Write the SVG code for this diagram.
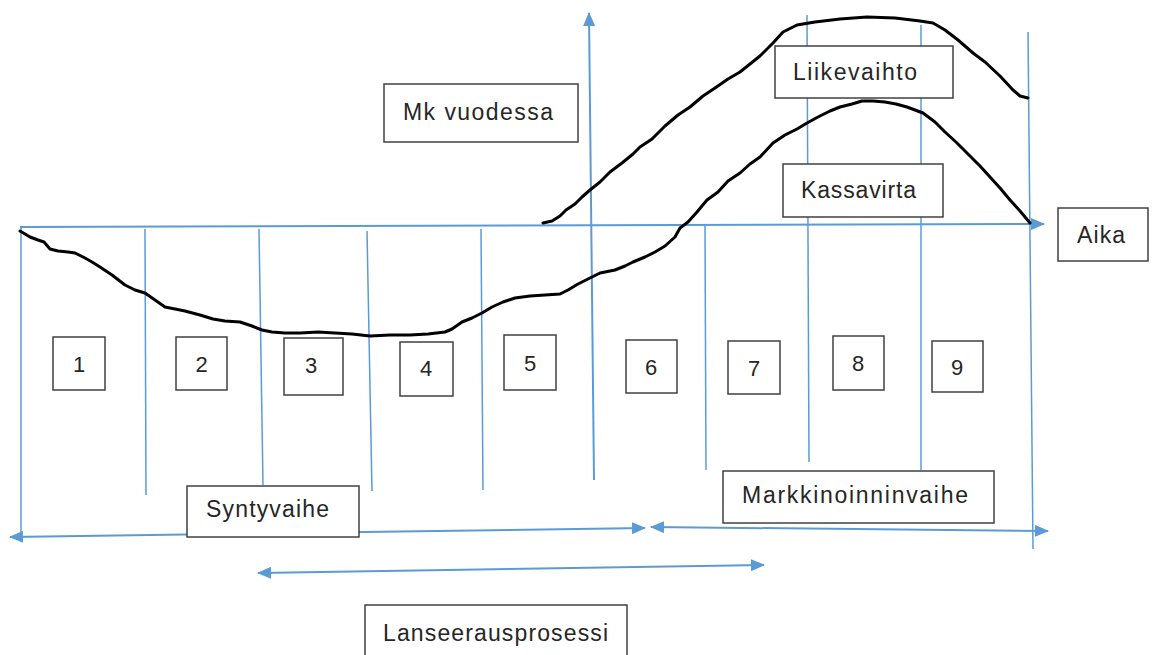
<svg xmlns="http://www.w3.org/2000/svg" width="1153" height="655" viewBox="0 0 1153 655">
<style>
.ax{stroke:#5B9BD5;stroke-width:2;fill:none}
.vl{stroke:#5B9BD5;stroke-width:1.5;fill:none}
.cv{stroke:#000;stroke-width:3;fill:none;stroke-linejoin:round;stroke-linecap:round}
.bx{fill:#fff;stroke:#404040;stroke-width:1.5}
.tx{font-family:"Liberation Sans",Arial,sans-serif;font-size:23px;fill:#262626}
.nm{font-family:"Liberation Sans",Arial,sans-serif;font-size:22px;fill:#262626;text-anchor:middle}
</style>
<defs>
<marker id="ah" markerUnits="userSpaceOnUse" markerWidth="14" markerHeight="12" refX="13" refY="6" orient="auto-start-reverse">
<path d="M0,0 L14,6 L0,12 Z" fill="#5B9BD5"/>
</marker>
</defs>
<rect width="1153" height="655" fill="#fff"/>
<g id="connectors">
<line class="vl" x1="21" y1="227" x2="21" y2="536"/>
<line class="vl" x1="145" y1="229" x2="146" y2="495"/>
<line class="vl" x1="259" y1="229" x2="263" y2="485"/>
<line class="vl" x1="367" y1="231" x2="372" y2="491"/>
<line class="vl" x1="481" y1="229" x2="483" y2="490"/>
<line class="vl" x1="705" y1="224" x2="706" y2="470"/>
<line class="vl" x1="807" y1="15" x2="809" y2="462"/>
<line class="vl" x1="921" y1="25" x2="921" y2="470"/>
<line class="vl" x1="1028" y1="32" x2="1033" y2="549"/>
<line class="ax" x1="594" y1="480" x2="589" y2="13" marker-end="url(#ah)"/>
<line class="ax" x1="20" y1="227" x2="1044" y2="224" marker-end="url(#ah)"/>
<line class="ax" x1="10" y1="537" x2="645" y2="528" marker-start="url(#ah)" marker-end="url(#ah)"/>
<line class="ax" x1="651" y1="527" x2="1048" y2="531" marker-start="url(#ah)" marker-end="url(#ah)"/>
<line class="ax" x1="258" y1="573" x2="764" y2="565" marker-start="url(#ah)" marker-end="url(#ah)"/>
</g>
<g id="curves">
<polyline class="cv" points="543,223 552,221 560,216 566,210 575,204 582,197 590,190 600,182 610,172 622,163 633,154 640,147 652,139 665,126 678,115 690,107 703,96 715,88 728,79 740,72 750,64 760,56 773,43 783,32 797,25 815,22 840,19 867,17 895,18 920,21 933,23 945,30 958,40 973,53 985,62 1000,76 1013,90 1020,96 1028,98"/>
<polyline class="cv" points="20,231 25,234 30,237 38,240 44,242 50,249 58,251 68,252 75,253 85,258 92,262 100,267 112,275 125,285 135,290 145,293 155,300 165,307 175,309 185,311 200,315 213,319 225,321 240,322 252,326 262,330 272,332 285,333 300,333 318,332 335,333 352,334 370,336 390,335 410,335 428,334 445,332 452,329 462,322 472,318 482,313 492,307 503,302 515,298 530,296 545,295 560,294 568,290 578,284 590,278 600,273 615,270 625,266 633,262 645,257 655,252 665,246 675,237 680,228 688,222 697,212 707,200 718,192 728,181 740,173 750,164 760,157 773,143 785,135 797,129 807,123 818,117 830,111 840,107 852,104 862,101 873,101 885,102 896,104 907,107 915,110 923,113 935,122 945,132 957,143 968,154 980,166 990,177 1000,188 1010,200 1020,211 1030,223"/>
</g>
<g id="box-mk"><rect class="bx" x="384" y="84" width="194" height="58"/><text class="tx" x="403" y="120" textLength="150" lengthAdjust="spacing">Mk vuodessa</text></g>
<g id="box-liikevaihto"><rect class="bx" x="775" y="46" width="178" height="52"/><text class="tx" x="793" y="80" textLength="124" lengthAdjust="spacing">Liikevaihto</text></g>
<g id="box-kassavirta"><rect class="bx" x="783" y="164" width="160" height="53"/><text class="tx" x="801" y="198" textLength="115" lengthAdjust="spacing">Kassavirta</text></g>
<g id="box-aika"><rect class="bx" x="1058" y="208" width="90" height="53"/><text class="tx" x="1077" y="243" textLength="48" lengthAdjust="spacing">Aika</text></g>
<g id="box-syntyvaihe"><rect class="bx" x="187" y="486" width="172" height="51"/><text class="tx" x="206" y="517" textLength="123" lengthAdjust="spacing">Syntyvaihe</text></g>
<g id="box-markkinointi"><rect class="bx" x="723" y="471" width="271" height="52"/><text class="tx" x="742" y="503" textLength="226" lengthAdjust="spacing">Markkinoinninvaihe</text></g>
<g id="box-lanseeraus"><rect class="bx" x="365" y="605" width="262" height="60"/><text class="tx" x="383" y="641" textLength="225" lengthAdjust="spacing">Lanseerausprosessi</text></g>
<g id="n1"><rect class="bx" x="53" y="337" width="52" height="53"/><text class="nm" x="79" y="372">1</text></g>
<g id="n2"><rect class="bx" x="176" y="337" width="51" height="53"/><text class="nm" x="201.5" y="372">2</text></g>
<g id="n3"><rect class="bx" x="284" y="338" width="59" height="57"/><text class="nm" x="311" y="373">3</text></g>
<g id="n4"><rect class="bx" x="400" y="342" width="53" height="54"/><text class="nm" x="426" y="376">4</text></g>
<g id="n5"><rect class="bx" x="504" y="335" width="52" height="55"/><text class="nm" x="530" y="371">5</text></g>
<g id="n6"><rect class="bx" x="626" y="340" width="51" height="53"/><text class="nm" x="651" y="375">6</text></g>
<g id="n7"><rect class="bx" x="728" y="341" width="52" height="53"/><text class="nm" x="754" y="376">7</text></g>
<g id="n8"><rect class="bx" x="833" y="336" width="51" height="54"/><text class="nm" x="858" y="371">8</text></g>
<g id="n9"><rect class="bx" x="932" y="341" width="51" height="51"/><text class="nm" x="957" y="375">9</text></g>
</svg>
